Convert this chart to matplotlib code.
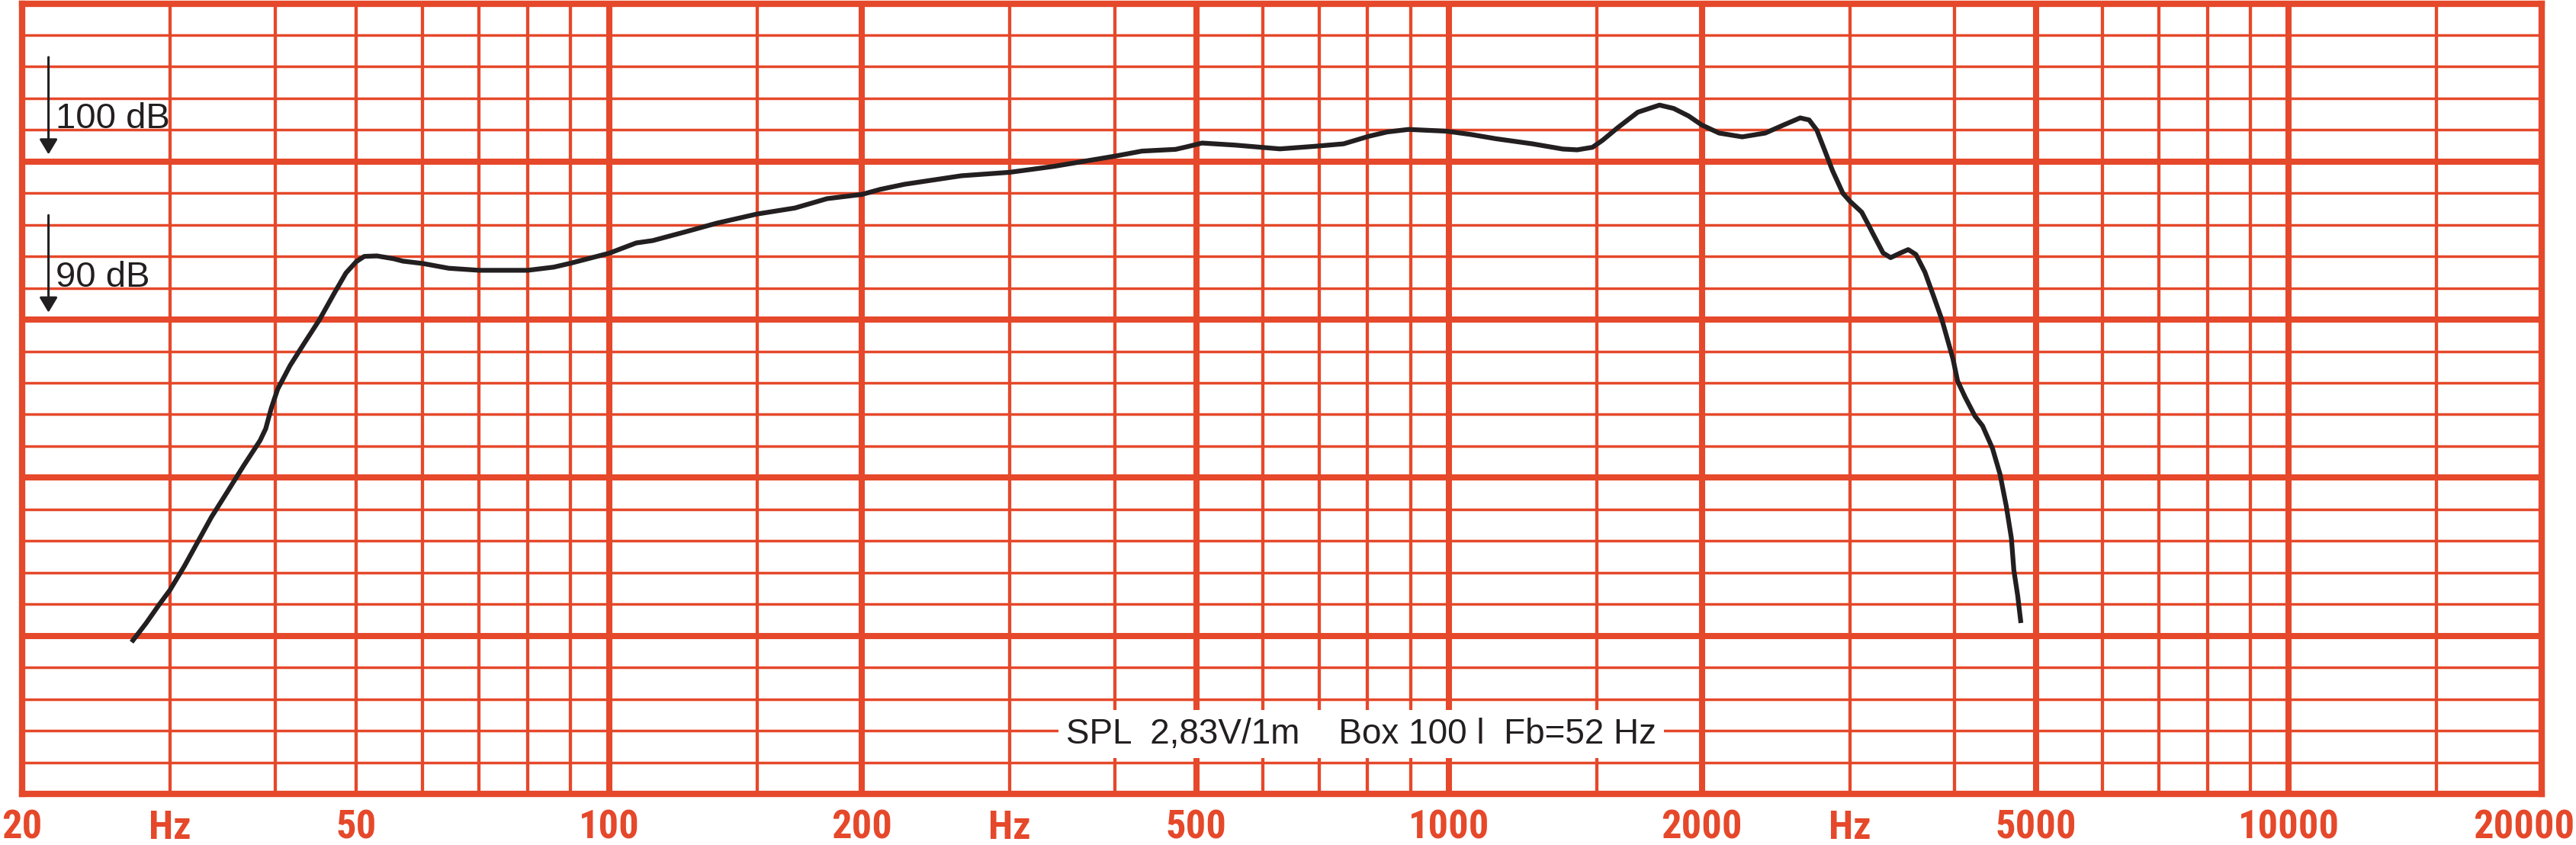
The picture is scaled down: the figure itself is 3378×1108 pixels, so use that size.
"""
Loudspeaker SPL response chart on red log paper (20 Hz .. 20 kHz).
"""

import matplotlib
matplotlib.use("Agg")
import matplotlib.pyplot as plt
from matplotlib import font_manager
from matplotlib.ticker import FixedLocator, NullFormatter

# ── Data ──────────────────────────────────────────────────────────────────────
FREQ_HZ = [27.0, 28.1, 29.1, 30.0, 31.2, 32.3, 33.6, 35.1, 36.7, 38.4,
           39.0, 39.6, 40.3, 41.7, 43.4, 45.2, 47.1, 48.6, 50.0, 51.1,
           52.9, 55.4, 56.8, 60.0, 64.4, 70.0, 80.0, 85.9, 90.0, 100.0,
           107.7, 112.7, 123.2, 134.3, 150.0, 166.4, 173.8, 181.7, 200.0, 210.3,
           224.7, 262.7, 300.0, 338.1, 400.0, 431.0, 472.5, 488.0, 508.0, 556.0,
           629.0, 691.0, 749.0, 803.0, 844.0, 895.0, 993.0, 1062.0, 1138.0, 1257.0,
           1366.0, 1421.0, 1482.0, 1524.0, 1589.0, 1678.0, 1781.0, 1851.0, 1929.0, 2000.0,
           2097.0, 2234.0, 2380.0, 2502.0, 2619.0, 2684.0, 2741.0, 2801.0, 2862.0, 2945.0,
           3000.0, 3100.0, 3154.0, 3197.0, 3287.0, 3356.0, 3449.0, 3522.0, 3597.0, 3687.0,
           3781.0, 3864.0, 3922.0, 3981.0, 4033.0, 4116.0, 4230.0, 4318.0, 4437.0, 4529.0,
           4608.0, 4673.0, 4705.0, 4755.0, 4797.0]
SPL_DB = [69.6, 70.8, 71.95, 72.9, 74.4, 75.85, 77.5, 79.1, 80.75, 82.35,
          83.1, 84.4, 85.6, 87.1, 88.55, 90.0, 91.7, 92.95, 93.67, 94.0,
          94.03, 93.85, 93.7, 93.55, 93.25, 93.12, 93.12, 93.32, 93.57, 94.2,
          94.85, 95.0, 95.55, 96.1, 96.68, 97.06, 97.35, 97.65, 97.92, 98.24,
          98.56, 99.1, 99.32, 99.69, 100.34, 100.66, 100.77, 100.94, 101.17, 101.04,
          100.8, 100.96, 101.12, 101.6, 101.87, 102.03, 101.92, 101.71, 101.44, 101.12,
          100.79, 100.74, 100.9, 101.35, 102.15, 103.12, 103.57, 103.36, 102.88, 102.31,
          101.8, 101.56, 101.8, 102.31, 102.76, 102.63, 101.99, 100.71, 99.42, 97.98,
          97.5, 96.8, 96.05, 95.44, 94.22, 93.92, 94.22, 94.43, 94.12, 93.0,
          91.39, 89.97, 88.75, 87.53, 86.11, 85.1, 83.89, 83.28, 81.86, 80.24,
          78.21, 76.18, 74.15, 72.53, 70.81]

X_MAJOR = [100, 200, 500, 1000, 2000, 5000, 10000]
X_MINOR = [30, 40, 50, 60, 70, 80, 90, 150, 300, 400, 600, 700, 800, 900,
           1500, 3000, 4000, 6000, 7000, 8000, 9000, 15000]
Y_MAJOR = [70, 80, 90, 100]
Y_MINOR = [62, 64, 66, 68, 72, 74, 76, 78, 82, 84, 86, 88,
           92, 94, 96, 98, 102, 104, 106, 108]

X_LABEL_POS = [20, 30, 50, 100, 200, 300, 500, 1000, 2000, 3000, 5000, 10000, 20000]
X_LABEL_TXT = ["20", "Hz", "50", "100", "200", "Hz", "500", "1000", "2000", "Hz",
               "5000", "10000", "20000"]

REF_LEVELS = [100, 90]
REF_TEXT = ["100 dB", "90 dB"]

NOTE = "SPL  2,83V/1m    Box 100 l  Fb=52 Hz"

# ── Style ─────────────────────────────────────────────────────────────────────
RED = "#E5482A"
INK = "#231F20"

fonts = font_manager.fontManager.ttflist
bold_names = {f.name for f in fonts if isinstance(f.weight, int) and f.weight >= 700
              or f.weight in ("bold", "heavy", "extra bold", "black")}
all_names = {f.name for f in fonts}


def pick(cands, pool):
    for c in cands:
        if c in pool:
            return c
    return "DejaVu Sans"


NARROW = pick(["Liberation Sans Narrow", "Arial Narrow", "Roboto Condensed",
               "Archivo Narrow", "PT Sans Narrow", "Barlow Condensed",
               "Saira Condensed", "Saira SemiCondensed"], bold_names)
PLAIN = pick(["Liberation Sans", "Arimo"], all_names)

W, H = 3378, 1108
fig = plt.figure(figsize=(W / 100, H / 100), dpi=100)
fig.patch.set_facecolor("white")
ax = fig.add_axes([29 / W, (H - 1041) / H, 3304 / W, (1041 - 4.5) / H])

ax.set_xscale("log")
ax.set_xlim(20, 20000)
ax.set_ylim(60, 110)

# paper grid
ax.xaxis.set_major_locator(FixedLocator(X_MAJOR))
ax.xaxis.set_minor_locator(FixedLocator(X_MINOR))
ax.yaxis.set_major_locator(FixedLocator(Y_MAJOR))
ax.yaxis.set_minor_locator(FixedLocator(Y_MINOR))
ax.xaxis.set_minor_formatter(NullFormatter())
ax.set_axisbelow(True)
ax.grid(which="major", axis="both", color=RED, lw=5.8)
ax.grid(which="minor", axis="x", color=RED, lw=3.1)
ax.grid(which="minor", axis="y", color=RED, lw=2.5)
ax.tick_params(which="both", length=0, labelbottom=False, labelleft=False)
for sp in ax.spines.values():
    sp.set_color(RED)
    sp.set_linewidth(6)

# response curve
ax.plot(FREQ_HZ, SPL_DB, color=INK, lw=4.5, solid_joinstyle="round",
        solid_capstyle="butt", zorder=5)

# frequency labels under the frame; size the narrow face so "1000" is ~106 px wide
renderer = fig.canvas.get_renderer()
probe = fig.text(0, 0, "1000", family=NARROW, fontweight="bold", fontsize=40)
lab_size = min(46, max(30, 40 * 106 / probe.get_window_extent(renderer).width))
probe.remove()

n = len(X_LABEL_POS)
for i, (f, txt) in enumerate(zip(X_LABEL_POS, X_LABEL_TXT)):
    if i == 0:
        xy, ha, dx = (0, 0), "left", -27
    elif i == n - 1:
        xy, ha, dx = (1, 0), "right", 43
    else:
        xy, ha, dx = (f, 0), "center", 0
    coords = "axes fraction" if i in (0, n - 1) else ("data", "axes fraction")
    ax.annotate(txt, xy=xy, xycoords=coords, xytext=(dx, -59),
                textcoords="offset pixels", ha=ha, va="baseline", color=RED,
                fontsize=lab_size, fontweight="bold", family=NARROW,
                annotation_clip=False)

# reference level arrows
for lvl, txt in zip(REF_LEVELS, REF_TEXT):
    ax.annotate("", xy=(21.5, lvl + 0.45), xytext=(21.5, lvl + 6.6),
                arrowprops=dict(arrowstyle="-|>,head_length=0.6,head_width=0.36",
                                mutation_scale=20, color=INK, lw=2.2,
                                shrinkA=0, shrinkB=0), zorder=6)
    ax.text(21.95, lvl + 2.1, txt, ha="left", va="baseline", color=INK,
            fontsize=34, family=PLAIN, zorder=6)

# measurement note
ax.text(786, 63.2, NOTE, ha="center", va="baseline", color=INK, fontsize=33,
        family=PLAIN, zorder=6,
        bbox=dict(facecolor="white", edgecolor="none", pad=7))

fig.savefig("out.png", dpi=100, facecolor="white")
